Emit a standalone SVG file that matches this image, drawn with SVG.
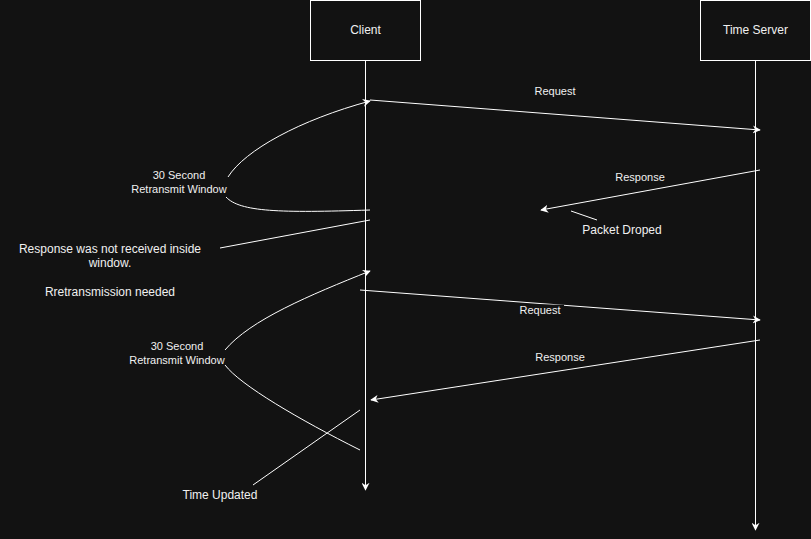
<svg xmlns="http://www.w3.org/2000/svg" width="811" height="539" viewBox="0 0 811 539">
<defs>
<marker id="arr" viewBox="0 0 10 10" refX="9" refY="5" markerWidth="8" markerHeight="8" markerUnits="userSpaceOnUse" orient="auto">
<path d="M0,0 L10,5 L0,10 L3,5 Z" fill="#ffffff"/>
</marker>
</defs>
<style>
.box{fill:#121212;stroke:#ffffff;stroke-width:1}
.ln{fill:none;stroke:#ffffff;stroke-width:1}
.t{font-family:"Liberation Sans",Arial,sans-serif;fill:#f0f0f0;text-anchor:middle}
.s11{font-size:11px}
.s12{font-size:12px}
</style>
<rect x="0" y="0" width="811" height="539" fill="#121212"/>
<g id="client">
<rect class="box" x="310.5" y="0.5" width="110" height="60"/>
<text class="t s12" x="365.5" y="34">Client</text>
</g>
<g id="server">
<rect class="box" x="700.5" y="0.5" width="110" height="60"/>
<text class="t s12" x="755.5" y="34">Time Server</text>
</g>
<g id="connectors">
<line class="ln" x1="365.5" y1="60.5" x2="365.5" y2="490" marker-end="url(#arr)"/>
<line class="ln" x1="755.5" y1="60.5" x2="755.5" y2="530" marker-end="url(#arr)"/>
<line class="ln" x1="370" y1="100" x2="760" y2="130" marker-end="url(#arr)"/>
<line class="ln" x1="760" y1="170" x2="541" y2="210" marker-end="url(#arr)"/>
<line class="ln" x1="571" y1="211" x2="597" y2="220"/>
<path class="ln" d="M228,177 C245,150 300,120 370,101" marker-end="url(#arr)"/>
<path class="ln" d="M226,197 C240,212 280,213 370,210"/>
<line class="ln" x1="220" y1="248" x2="370" y2="220"/>
<path class="ln" d="M225,350 C250,320 310,295 370,271" marker-end="url(#arr)"/>
<path class="ln" d="M225,365 C240,385 300,420 360,450"/>
<line class="ln" x1="360" y1="290" x2="760" y2="320" marker-end="url(#arr)"/>
<line class="ln" x1="760" y1="340" x2="371" y2="400" marker-end="url(#arr)"/>
<line class="ln" x1="360" y1="410" x2="253" y2="485"/>
</g>
<g id="labels">
<text class="t s11" x="555" y="95">Request</text>
<text class="t s11" x="640" y="181">Response</text>
<text class="t s12" x="622" y="234">Packet Droped</text>
<rect x="518" y="304.6" width="46" height="12" fill="#121212"/>
<text class="t s11" x="540" y="314">Request</text>
<text class="t s11" x="560" y="361">Response</text>
<text class="t s11" x="179" y="179">30 Second</text>
<text class="t s11" x="179" y="193">Retransmit Window</text>
<text class="t s11" x="177" y="350">30 Second</text>
<text class="t s11" x="177" y="364">Retransmit Window</text>
<text class="t s12" x="110" y="253">Response was not received inside</text>
<text class="t s12" x="110" y="267">window.</text>
<text class="t s12" x="110" y="296">Rretransmission needed</text>
<text class="t s12" x="220" y="499">Time Updated</text>
</g>
</svg>
